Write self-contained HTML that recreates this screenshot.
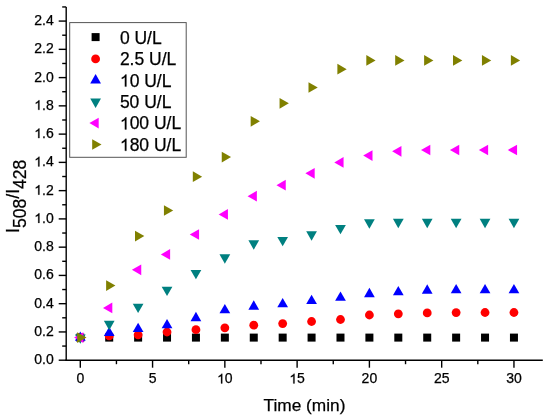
<!DOCTYPE html>
<html><head><meta charset="utf-8"><style>
html,body{margin:0;padding:0;background:#fff;}
svg{display:block;will-change:transform;}
text{font-family:"Liberation Sans",sans-serif;fill:#000;stroke:#000;stroke-width:0.25px;}
.tk{font-size:14px;}
.lg{font-size:17.5px;}
.ttl{font-size:17.3px;}
.one{fill:none;stroke:none;}
.onep{fill:#000;stroke:#000;stroke-width:0.25px;vector-effect:non-scaling-stroke;}
</style></head><body>
<svg width="550" height="419" viewBox="0 0 550 419">
<rect width="550" height="419" fill="#fff"/>
<line x1="66.2" y1="7.0" x2="66.2" y2="360.9" stroke="#000" stroke-width="1.4"/>
<line x1="65.5" y1="360.2" x2="542.8" y2="360.2" stroke="#000" stroke-width="1.4"/>
<line x1="58.70" y1="360.20" x2="66.2" y2="360.20" stroke="#000" stroke-width="1.4"/>
<text x="53.7" y="364.20" text-anchor="end" class="tk">0.0</text>
<line x1="62.20" y1="346.07" x2="66.2" y2="346.07" stroke="#000" stroke-width="1.4"/>
<line x1="58.70" y1="331.94" x2="66.2" y2="331.94" stroke="#000" stroke-width="1.4"/>
<text x="53.7" y="335.94" text-anchor="end" class="tk">0.2</text>
<line x1="62.20" y1="317.81" x2="66.2" y2="317.81" stroke="#000" stroke-width="1.4"/>
<line x1="58.70" y1="303.68" x2="66.2" y2="303.68" stroke="#000" stroke-width="1.4"/>
<text x="53.7" y="307.68" text-anchor="end" class="tk">0.4</text>
<line x1="62.20" y1="289.55" x2="66.2" y2="289.55" stroke="#000" stroke-width="1.4"/>
<line x1="58.70" y1="275.42" x2="66.2" y2="275.42" stroke="#000" stroke-width="1.4"/>
<text x="53.7" y="279.42" text-anchor="end" class="tk">0.6</text>
<line x1="62.20" y1="261.29" x2="66.2" y2="261.29" stroke="#000" stroke-width="1.4"/>
<line x1="58.70" y1="247.16" x2="66.2" y2="247.16" stroke="#000" stroke-width="1.4"/>
<text x="53.7" y="251.16" text-anchor="end" class="tk">0.8</text>
<line x1="62.20" y1="233.03" x2="66.2" y2="233.03" stroke="#000" stroke-width="1.4"/>
<line x1="58.70" y1="218.90" x2="66.2" y2="218.90" stroke="#000" stroke-width="1.4"/>
<text x="53.7" y="222.90" text-anchor="end" class="tk"><tspan class="one">1</tspan>.0</text>
<line x1="62.20" y1="204.77" x2="66.2" y2="204.77" stroke="#000" stroke-width="1.4"/>
<line x1="58.70" y1="190.64" x2="66.2" y2="190.64" stroke="#000" stroke-width="1.4"/>
<text x="53.7" y="194.64" text-anchor="end" class="tk"><tspan class="one">1</tspan>.2</text>
<line x1="62.20" y1="176.51" x2="66.2" y2="176.51" stroke="#000" stroke-width="1.4"/>
<line x1="58.70" y1="162.38" x2="66.2" y2="162.38" stroke="#000" stroke-width="1.4"/>
<text x="53.7" y="166.38" text-anchor="end" class="tk"><tspan class="one">1</tspan>.4</text>
<line x1="62.20" y1="148.25" x2="66.2" y2="148.25" stroke="#000" stroke-width="1.4"/>
<line x1="58.70" y1="134.12" x2="66.2" y2="134.12" stroke="#000" stroke-width="1.4"/>
<text x="53.7" y="138.12" text-anchor="end" class="tk"><tspan class="one">1</tspan>.6</text>
<line x1="62.20" y1="119.99" x2="66.2" y2="119.99" stroke="#000" stroke-width="1.4"/>
<line x1="58.70" y1="105.86" x2="66.2" y2="105.86" stroke="#000" stroke-width="1.4"/>
<text x="53.7" y="109.86" text-anchor="end" class="tk"><tspan class="one">1</tspan>.8</text>
<line x1="62.20" y1="91.73" x2="66.2" y2="91.73" stroke="#000" stroke-width="1.4"/>
<line x1="58.70" y1="77.60" x2="66.2" y2="77.60" stroke="#000" stroke-width="1.4"/>
<text x="53.7" y="81.60" text-anchor="end" class="tk">2.0</text>
<line x1="62.20" y1="63.47" x2="66.2" y2="63.47" stroke="#000" stroke-width="1.4"/>
<line x1="58.70" y1="49.34" x2="66.2" y2="49.34" stroke="#000" stroke-width="1.4"/>
<text x="53.7" y="53.34" text-anchor="end" class="tk">2.2</text>
<line x1="62.20" y1="35.21" x2="66.2" y2="35.21" stroke="#000" stroke-width="1.4"/>
<line x1="58.70" y1="21.08" x2="66.2" y2="21.08" stroke="#000" stroke-width="1.4"/>
<text x="53.7" y="25.08" text-anchor="end" class="tk">2.4</text>
<line x1="62.20" y1="6.95" x2="66.2" y2="6.95" stroke="#000" stroke-width="1.4"/>
<line x1="80.30" y1="360.2" x2="80.30" y2="367.70" stroke="#000" stroke-width="1.4"/>
<text x="80.30" y="383.4" text-anchor="middle" class="tk">0</text>
<line x1="116.44" y1="360.2" x2="116.44" y2="364.20" stroke="#000" stroke-width="1.4"/>
<line x1="152.57" y1="360.2" x2="152.57" y2="367.70" stroke="#000" stroke-width="1.4"/>
<text x="152.57" y="383.4" text-anchor="middle" class="tk">5</text>
<line x1="188.71" y1="360.2" x2="188.71" y2="364.20" stroke="#000" stroke-width="1.4"/>
<line x1="224.85" y1="360.2" x2="224.85" y2="367.70" stroke="#000" stroke-width="1.4"/>
<text x="224.85" y="383.4" text-anchor="middle" class="tk"><tspan class="one">1</tspan>0</text>
<line x1="260.99" y1="360.2" x2="260.99" y2="364.20" stroke="#000" stroke-width="1.4"/>
<line x1="297.12" y1="360.2" x2="297.12" y2="367.70" stroke="#000" stroke-width="1.4"/>
<text x="297.12" y="383.4" text-anchor="middle" class="tk"><tspan class="one">1</tspan>5</text>
<line x1="333.26" y1="360.2" x2="333.26" y2="364.20" stroke="#000" stroke-width="1.4"/>
<line x1="369.40" y1="360.2" x2="369.40" y2="367.70" stroke="#000" stroke-width="1.4"/>
<text x="369.40" y="383.4" text-anchor="middle" class="tk">20</text>
<line x1="405.54" y1="360.2" x2="405.54" y2="364.20" stroke="#000" stroke-width="1.4"/>
<line x1="441.68" y1="360.2" x2="441.68" y2="367.70" stroke="#000" stroke-width="1.4"/>
<text x="441.68" y="383.4" text-anchor="middle" class="tk">25</text>
<line x1="477.81" y1="360.2" x2="477.81" y2="364.20" stroke="#000" stroke-width="1.4"/>
<line x1="513.95" y1="360.2" x2="513.95" y2="367.70" stroke="#000" stroke-width="1.4"/>
<text x="513.95" y="383.4" text-anchor="middle" class="tk">30</text>
<text x="304.5" y="411" text-anchor="middle" class="ttl">Time (min)</text>
<text transform="translate(19.3,233) rotate(-90)" class="ttl" style="font-size:17.6px">I<tspan dy="7" >508</tspan><tspan dy="-7">/I</tspan><tspan dy="7">428</tspan></text>
<rect x="69.7" y="22.6" width="116.5" height="134.7" fill="#fff" stroke="#555" stroke-width="1"/>
<rect x="91.60" y="33.10" width="8.0" height="8.0" fill="#000000"/>
<circle cx="95.60" cy="58.90" r="4.4" fill="#ff0000"/>
<polygon points="95.60,74.10 100.97,83.40 90.23,83.40" fill="#0000ff"/>
<polygon points="95.60,107.90 90.23,98.60 100.97,98.60" fill="#008080"/>
<polygon points="89.40,123.10 98.70,117.73 98.70,128.47" fill="#ff00ff"/>
<polygon points="101.50,144.50 92.20,149.87 92.20,139.13" fill="#808000"/>
<text x="119.9" y="43.80" class="lg">0 U/L</text>
<text x="119.9" y="65.20" class="lg">2.5 U/L</text>
<text x="119.9" y="86.60" class="lg"><tspan class="one">1</tspan>0 U/L</text>
<text x="119.9" y="108.00" class="lg">50 U/L</text>
<text x="119.9" y="129.40" class="lg"><tspan class="one">1</tspan>00 U/L</text>
<text x="119.9" y="150.80" class="lg"><tspan class="one">1</tspan>80 U/L</text>
<rect x="76.30" y="333.60" width="8.0" height="8.0" fill="#000000"/>
<rect x="105.21" y="333.60" width="8.0" height="8.0" fill="#000000"/>
<rect x="134.12" y="333.60" width="8.0" height="8.0" fill="#000000"/>
<rect x="163.03" y="333.60" width="8.0" height="8.0" fill="#000000"/>
<rect x="191.94" y="333.60" width="8.0" height="8.0" fill="#000000"/>
<rect x="220.85" y="333.60" width="8.0" height="8.0" fill="#000000"/>
<rect x="249.76" y="333.60" width="8.0" height="8.0" fill="#000000"/>
<rect x="278.67" y="333.60" width="8.0" height="8.0" fill="#000000"/>
<rect x="307.58" y="333.60" width="8.0" height="8.0" fill="#000000"/>
<rect x="336.49" y="333.60" width="8.0" height="8.0" fill="#000000"/>
<rect x="365.40" y="333.60" width="8.0" height="8.0" fill="#000000"/>
<rect x="394.31" y="333.60" width="8.0" height="8.0" fill="#000000"/>
<rect x="423.22" y="333.60" width="8.0" height="8.0" fill="#000000"/>
<rect x="452.13" y="333.60" width="8.0" height="8.0" fill="#000000"/>
<rect x="481.04" y="333.60" width="8.0" height="8.0" fill="#000000"/>
<rect x="509.95" y="333.60" width="8.0" height="8.0" fill="#000000"/>
<circle cx="80.30" cy="337.70" r="4.4" fill="#ff0000"/>
<circle cx="109.21" cy="335.90" r="4.4" fill="#ff0000"/>
<circle cx="138.12" cy="334.80" r="4.4" fill="#ff0000"/>
<circle cx="167.03" cy="332.00" r="4.4" fill="#ff0000"/>
<circle cx="195.94" cy="329.70" r="4.4" fill="#ff0000"/>
<circle cx="224.85" cy="327.80" r="4.4" fill="#ff0000"/>
<circle cx="253.76" cy="325.20" r="4.4" fill="#ff0000"/>
<circle cx="282.67" cy="323.60" r="4.4" fill="#ff0000"/>
<circle cx="311.58" cy="321.50" r="4.4" fill="#ff0000"/>
<circle cx="340.49" cy="319.50" r="4.4" fill="#ff0000"/>
<circle cx="369.40" cy="315.00" r="4.4" fill="#ff0000"/>
<circle cx="398.31" cy="313.80" r="4.4" fill="#ff0000"/>
<circle cx="427.22" cy="312.90" r="4.4" fill="#ff0000"/>
<circle cx="456.13" cy="312.60" r="4.4" fill="#ff0000"/>
<circle cx="485.04" cy="312.50" r="4.4" fill="#ff0000"/>
<circle cx="513.95" cy="312.50" r="4.4" fill="#ff0000"/>
<polygon points="80.30,331.40 85.67,340.70 74.93,340.70" fill="#0000ff"/>
<polygon points="109.21,326.65 114.58,335.95 103.84,335.95" fill="#0000ff"/>
<polygon points="138.12,322.75 143.49,332.05 132.75,332.05" fill="#0000ff"/>
<polygon points="167.03,318.95 172.40,328.25 161.66,328.25" fill="#0000ff"/>
<polygon points="195.94,311.85 201.31,321.15 190.57,321.15" fill="#0000ff"/>
<polygon points="224.85,304.05 230.22,313.35 219.48,313.35" fill="#0000ff"/>
<polygon points="253.76,300.35 259.13,309.65 248.39,309.65" fill="#0000ff"/>
<polygon points="282.67,298.05 288.04,307.35 277.30,307.35" fill="#0000ff"/>
<polygon points="311.58,294.75 316.95,304.05 306.21,304.05" fill="#0000ff"/>
<polygon points="340.49,291.55 345.86,300.85 335.12,300.85" fill="#0000ff"/>
<polygon points="369.40,287.85 374.77,297.15 364.03,297.15" fill="#0000ff"/>
<polygon points="398.31,285.95 403.68,295.25 392.94,295.25" fill="#0000ff"/>
<polygon points="427.22,284.35 432.59,293.65 421.85,293.65" fill="#0000ff"/>
<polygon points="456.13,283.95 461.50,293.25 450.76,293.25" fill="#0000ff"/>
<polygon points="485.04,283.95 490.41,293.25 479.67,293.25" fill="#0000ff"/>
<polygon points="513.95,283.95 519.32,293.25 508.58,293.25" fill="#0000ff"/>
<polygon points="80.30,343.80 74.93,334.50 85.67,334.50" fill="#008080"/>
<polygon points="109.21,330.15 103.84,320.85 114.58,320.85" fill="#008080"/>
<polygon points="138.12,313.05 132.75,303.75 143.49,303.75" fill="#008080"/>
<polygon points="167.03,295.95 161.66,286.65 172.40,286.65" fill="#008080"/>
<polygon points="195.94,279.25 190.57,269.95 201.31,269.95" fill="#008080"/>
<polygon points="224.85,263.65 219.48,254.35 230.22,254.35" fill="#008080"/>
<polygon points="253.76,249.65 248.39,240.35 259.13,240.35" fill="#008080"/>
<polygon points="282.67,246.35 277.30,237.05 288.04,237.05" fill="#008080"/>
<polygon points="311.58,240.65 306.21,231.35 316.95,231.35" fill="#008080"/>
<polygon points="340.49,234.25 335.12,224.95 345.86,224.95" fill="#008080"/>
<polygon points="369.40,228.65 364.03,219.35 374.77,219.35" fill="#008080"/>
<polygon points="398.31,228.15 392.94,218.85 403.68,218.85" fill="#008080"/>
<polygon points="427.22,228.15 421.85,218.85 432.59,218.85" fill="#008080"/>
<polygon points="456.13,228.15 450.76,218.85 461.50,218.85" fill="#008080"/>
<polygon points="485.04,228.15 479.67,218.85 490.41,218.85" fill="#008080"/>
<polygon points="513.95,228.15 508.58,218.85 519.32,218.85" fill="#008080"/>
<polygon points="74.10,337.60 83.40,332.23 83.40,342.97" fill="#ff00ff"/>
<polygon points="103.01,307.90 112.31,302.53 112.31,313.27" fill="#ff00ff"/>
<polygon points="131.92,269.80 141.22,264.43 141.22,275.17" fill="#ff00ff"/>
<polygon points="160.83,254.40 170.13,249.03 170.13,259.77" fill="#ff00ff"/>
<polygon points="189.74,234.50 199.04,229.13 199.04,239.87" fill="#ff00ff"/>
<polygon points="218.65,214.40 227.95,209.03 227.95,219.77" fill="#ff00ff"/>
<polygon points="247.56,196.20 256.86,190.83 256.86,201.57" fill="#ff00ff"/>
<polygon points="276.47,185.20 285.77,179.83 285.77,190.57" fill="#ff00ff"/>
<polygon points="305.38,173.30 314.68,167.93 314.68,178.67" fill="#ff00ff"/>
<polygon points="334.29,162.40 343.59,157.03 343.59,167.77" fill="#ff00ff"/>
<polygon points="363.20,155.60 372.50,150.23 372.50,160.97" fill="#ff00ff"/>
<polygon points="392.11,151.30 401.41,145.93 401.41,156.67" fill="#ff00ff"/>
<polygon points="421.02,150.00 430.32,144.63 430.32,155.37" fill="#ff00ff"/>
<polygon points="449.93,150.00 459.23,144.63 459.23,155.37" fill="#ff00ff"/>
<polygon points="478.84,150.00 488.14,144.63 488.14,155.37" fill="#ff00ff"/>
<polygon points="507.75,150.00 517.05,144.63 517.05,155.37" fill="#ff00ff"/>
<polygon points="86.50,337.60 77.20,342.97 77.20,332.23" fill="#808000"/>
<polygon points="115.41,285.60 106.11,290.97 106.11,280.23" fill="#808000"/>
<polygon points="144.32,236.10 135.02,241.47 135.02,230.73" fill="#808000"/>
<polygon points="173.23,210.50 163.93,215.87 163.93,205.13" fill="#808000"/>
<polygon points="202.14,176.70 192.84,182.07 192.84,171.33" fill="#808000"/>
<polygon points="231.05,157.10 221.75,162.47 221.75,151.73" fill="#808000"/>
<polygon points="259.96,121.30 250.66,126.67 250.66,115.93" fill="#808000"/>
<polygon points="288.87,103.30 279.57,108.67 279.57,97.93" fill="#808000"/>
<polygon points="317.78,87.50 308.48,92.87 308.48,82.13" fill="#808000"/>
<polygon points="346.69,69.20 337.39,74.57 337.39,63.83" fill="#808000"/>
<polygon points="375.60,60.40 366.30,65.77 366.30,55.03" fill="#808000"/>
<polygon points="404.51,60.40 395.21,65.77 395.21,55.03" fill="#808000"/>
<polygon points="433.42,60.40 424.12,65.77 424.12,55.03" fill="#808000"/>
<polygon points="462.33,60.40 453.03,65.77 453.03,55.03" fill="#808000"/>
<polygon points="491.24,60.40 481.94,65.77 481.94,55.03" fill="#808000"/>
<polygon points="520.15,60.40 510.85,65.77 510.85,55.03" fill="#808000"/>
<path class="onep" transform="translate(34.22,222.90) scale(0.006836,-0.006836)" d="M763 0H583V1098Q518 1038 413 979Q307 920 223 890V1057Q374 1124 488 1221Q601 1318 648 1409H763Z"/>
<path class="onep" transform="translate(34.22,194.64) scale(0.006836,-0.006836)" d="M763 0H583V1098Q518 1038 413 979Q307 920 223 890V1057Q374 1124 488 1221Q601 1318 648 1409H763Z"/>
<path class="onep" transform="translate(34.22,166.38) scale(0.006836,-0.006836)" d="M763 0H583V1098Q518 1038 413 979Q307 920 223 890V1057Q374 1124 488 1221Q601 1318 648 1409H763Z"/>
<path class="onep" transform="translate(34.22,138.12) scale(0.006836,-0.006836)" d="M763 0H583V1098Q518 1038 413 979Q307 920 223 890V1057Q374 1124 488 1221Q601 1318 648 1409H763Z"/>
<path class="onep" transform="translate(34.22,109.86) scale(0.006836,-0.006836)" d="M763 0H583V1098Q518 1038 413 979Q307 920 223 890V1057Q374 1124 488 1221Q601 1318 648 1409H763Z"/>
<path class="onep" transform="translate(217.05,383.40) scale(0.006836,-0.006836)" d="M763 0H583V1098Q518 1038 413 979Q307 920 223 890V1057Q374 1124 488 1221Q601 1318 648 1409H763Z"/>
<path class="onep" transform="translate(289.32,383.40) scale(0.006836,-0.006836)" d="M763 0H583V1098Q518 1038 413 979Q307 920 223 890V1057Q374 1124 488 1221Q601 1318 648 1409H763Z"/>
<path class="onep" transform="translate(119.90,86.60) scale(0.008545,-0.008545)" d="M763 0H583V1098Q518 1038 413 979Q307 920 223 890V1057Q374 1124 488 1221Q601 1318 648 1409H763Z"/>
<path class="onep" transform="translate(119.90,129.40) scale(0.008545,-0.008545)" d="M763 0H583V1098Q518 1038 413 979Q307 920 223 890V1057Q374 1124 488 1221Q601 1318 648 1409H763Z"/>
<path class="onep" transform="translate(119.90,150.80) scale(0.008545,-0.008545)" d="M763 0H583V1098Q518 1038 413 979Q307 920 223 890V1057Q374 1124 488 1221Q601 1318 648 1409H763Z"/>
</svg>
</body></html>
